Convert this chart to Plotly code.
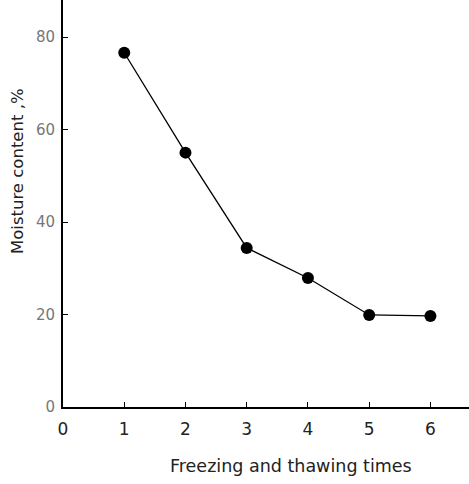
import plotly.graph_objects as go

times = [1, 2, 3, 4, 5, 6]
moisture = [76.6, 55.0, 34.4, 27.9, 19.9, 19.7]
x_ticks = [0, 1, 2, 3, 4, 5, 6]
y_ticks = [0, 20, 40, 60, 80]
x_title = "Freezing and thawing times"
y_title = "Moisture content ,%"

W, H = 469, 484
L, R, T, B = 63, 0, 0, 77
PW, PH = W - L - R, H - T - B

fig = go.Figure()
fig.add_trace(go.Scatter(
    x=times, y=moisture, mode="lines+markers",
    line=dict(color="black", width=1.3),
    marker=dict(color="black", size=12),
    showlegend=False,
))

fig.update_layout(
    width=W, height=H,
    margin=dict(l=L, r=R, t=T, b=B, autoexpand=False),
    paper_bgcolor="white", plot_bgcolor="white",
    font=dict(family="DejaVu Sans", color="#222"),
    xaxis=dict(
        range=[0, 6.63], tickvals=x_ticks, ticktext=[str(v) for v in x_ticks],
        showline=True, linecolor="black", linewidth=2,
        ticks="inside", ticklen=5, tickcolor="black", tickwidth=1,
        showgrid=False, zeroline=False, automargin=False,
        tickfont=dict(size=17, color="#222"), ticklabelstandoff=6,
    ),
    yaxis=dict(
        range=[0, 88], tickvals=y_ticks, ticktext=[str(v) for v in y_ticks],
        showline=True, linecolor="black", linewidth=2,
        ticks="inside", ticklen=5, tickcolor="black", tickwidth=1,
        showgrid=False, zeroline=False, automargin=False,
        tickfont=dict(size=15, color="#777"), ticklabelstandoff=3,
    ),
    annotations=[
        dict(text=x_title, xref="paper", yref="paper",
             x=(291 - L) / PW, y=(H - B - 466) / PH,
             xanchor="center", yanchor="middle", showarrow=False,
             font=dict(size=17.5, color="#222")),
        dict(text=y_title, textangle=-90, xref="paper", yref="paper",
             x=(17 - L) / PW, y=(H - B - 171) / PH,
             xanchor="center", yanchor="middle", showarrow=False,
             font=dict(size=16.5, color="#222")),
    ],
)
fig.write_html("out.html",
               config={"displayModeBar": False},
               post_script="document.body.style.margin='0';document.body.style.overflow='hidden';")
